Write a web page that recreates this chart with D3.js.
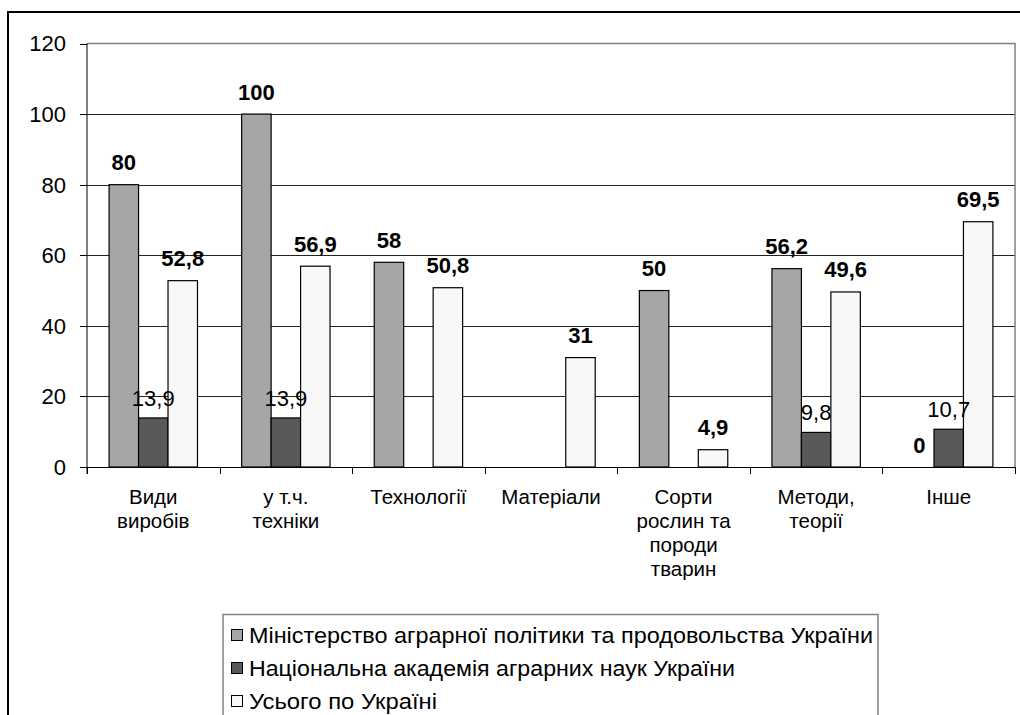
<!DOCTYPE html>
<html>
<head>
<meta charset="utf-8">
<script src="https://cdn.jsdelivr.net/npm/d3@7"></script>
<style>
  body { margin: 0; background: #fff; }
  svg { display: block; font-family: "Liberation Sans", Arial, sans-serif; }
</style>
</head>
<body>
<div id="chart"></div>
<script>
// Data
const categories = [
    ['Види', 'виробів'],
    ['у т.ч.', 'техніки'],
    ['Технології'],
    ['Матеріали'],
    ['Сорти', 'рослин та', 'породи', 'тварин'],
    ['Методи,', 'теорії'],
    ['Інше']
];
const seriesNames = [
    'Міністерство аграрної політики та продовольства України',
    'Національна академія аграрних наук України',
    'Усього по Україні'
];
const ministryValues = [80, 100, 58, null, 50, 56.2, 0];
const academyValues = [13.9, 13.9, null, null, null, 9.8, 10.7];
const totalValues = [52.8, 56.9, 50.8, 31, 4.9, 49.6, 69.5];
const yTicks = [0, 20, 40, 60, 80, 100, 120];

const seriesColors = ['#a6a6a6', '#595959', '#f8f8f8'];
const labelBold = [true, false, true];

const width = 1020,
    height = 715;
const plot = { left: 87, right: 1015, top: 43.5, bottom: 467 };

const svg = d3
    .select('#chart')
    .append('svg')
    .attr('width', width)
    .attr('height', height);

// outer frame
svg.append('rect')
    .attr('x', 8)
    .attr('y', 12)
    .attr('width', 1030)
    .attr('height', 720)
    .attr('fill', 'none')
    .attr('stroke', '#000')
    .attr('stroke-width', 2);

const catKeys = categories.map((c, i) => i);
const x = d3.scaleBand().domain(catKeys).range([plot.left, plot.right]).paddingInner(0).paddingOuter(0);
const x1 = d3.scaleBand().domain([0, 1, 2]).range([0, x.bandwidth()]).paddingInner(0).paddingOuter(0.75);
const y = d3.scaleLinear().domain([0, 120]).range([plot.bottom, plot.top]);

// gridlines
svg.append('g')
    .selectAll('line')
    .data(yTicks.filter((t) => t > 0 && t < 120))
    .enter()
    .append('line')
    .attr('x1', plot.left)
    .attr('x2', plot.right)
    .attr('y1', (d) => Math.round(y(d)) + 0.5)
    .attr('y2', (d) => Math.round(y(d)) + 0.5)
    .attr('stroke', '#222')
    .attr('stroke-width', 1);

// plot area border (top + right)
svg.append('path')
    .attr('d', `M${plot.left},${plot.top}H${plot.right}V${plot.bottom}`)
    .attr('fill', 'none')
    .attr('stroke', '#808080')
    .attr('stroke-width', 1.5);

// bars
const series = [ministryValues, academyValues, totalValues];
const barData = [];
series.forEach((vals, s) => {
    vals.forEach((v, i) => {
        if (v !== null) barData.push({ s: s, i: i, v: v });
    });
});

svg.append('g')
    .selectAll('rect')
    .data(barData.filter((d) => d.v > 0))
    .enter()
    .append('rect')
    .attr('x', (d) => x(d.i) + x1(d.s))
    .attr('y', (d) => y(d.v))
    .attr('width', x1.bandwidth())
    .attr('height', (d) => y(0) - y(d.v))
    .attr('fill', (d) => seriesColors[d.s])
    .attr('stroke', '#000')
    .attr('stroke-width', 1.2);

// value labels
svg.append('g')
    .selectAll('text')
    .data(barData)
    .enter()
    .append('text')
    .attr('x', (d) => x(d.i) + x1(d.s) + x1.bandwidth() / 2)
    .attr('y', (d) => y(d.v) - (labelBold[d.s] ? 14.5 : 12))
    .attr('text-anchor', 'middle')
    .style('font-size', '22px')
    .style('font-weight', (d) => (labelBold[d.s] ? 'bold' : 'normal'))
    .attr('fill', '#000')
    .text((d) => String(d.v).replace('.', ','));

// y axis
const yAxis = svg.append('g');
yAxis.append('line')
    .attr('x1', plot.left)
    .attr('x2', plot.left)
    .attr('y1', plot.top)
    .attr('y2', plot.bottom + 7)
    .attr('stroke', '#000');
yAxis.selectAll('.tick')
    .data(yTicks)
    .enter()
    .append('line')
    .attr('x1', plot.left - 7)
    .attr('x2', plot.left)
    .attr('y1', (d) => Math.round(y(d)) + 0.5)
    .attr('y2', (d) => Math.round(y(d)) + 0.5)
    .attr('stroke', '#000');
yAxis.selectAll('text')
    .data(yTicks)
    .enter()
    .append('text')
    .attr('x', 66)
    .attr('y', (d) => y(d))
    .attr('dy', '0.36em')
    .attr('text-anchor', 'end')
    .style('font-size', '22px')
    .text((d) => d);

// x axis
const xAxis = svg.append('g');
xAxis.append('line')
    .attr('x1', plot.left)
    .attr('x2', plot.right)
    .attr('y1', plot.bottom + 0.5)
    .attr('y2', plot.bottom + 0.5)
    .attr('stroke', '#000');
xAxis.selectAll('.tick')
    .data(catKeys.concat([categories.length]))
    .enter()
    .append('line')
    .attr('x1', (d) => Math.round(d < categories.length ? x(d) : plot.right) + 0.5)
    .attr('x2', (d) => Math.round(d < categories.length ? x(d) : plot.right) + 0.5)
    .attr('y1', plot.bottom)
    .attr('y2', plot.bottom + 7)
    .attr('stroke', '#000');

const catLabels = xAxis.selectAll('.cat')
    .data(catKeys)
    .enter()
    .append('text')
    .attr('class', 'cat')
    .attr('text-anchor', 'middle')
    .style('font-size', '20.5px');
catLabels.each(function (i) {
    const t = d3.select(this);
    categories[i].forEach((line, k) => {
        t.append('tspan')
            .attr('x', x(i) + x.bandwidth() / 2)
            .attr('y', 504 + k * 24)
            .text(line);
    });
});

// legend
const legend = svg.append('g');
legend.append('rect')
    .attr('x', 223)
    .attr('y', 614.5)
    .attr('width', 655)
    .attr('height', 200)
    .attr('fill', '#fff')
    .attr('stroke', '#808080')
    .attr('stroke-width', 1.5);
const rowY = [635, 668, 701];
const rowLen = [624, 486, 188];
seriesNames.forEach((name, s) => {
    legend.append('rect')
        .attr('x', 231.5)
        .attr('y', rowY[s] - 5.5)
        .attr('width', 11)
        .attr('height', 11)
        .attr('fill', seriesColors[s])
        .attr('stroke', '#000')
        .attr('stroke-width', 1);
    legend.append('text')
        .attr('x', 249)
        .attr('y', rowY[s])
        .attr('dy', '0.36em')
        .attr('textLength', rowLen[s])
        .attr('lengthAdjust', 'spacingAndGlyphs')
        .style('font-size', '21.5px')
        .text(name);
});
</script>
</body>
</html>
